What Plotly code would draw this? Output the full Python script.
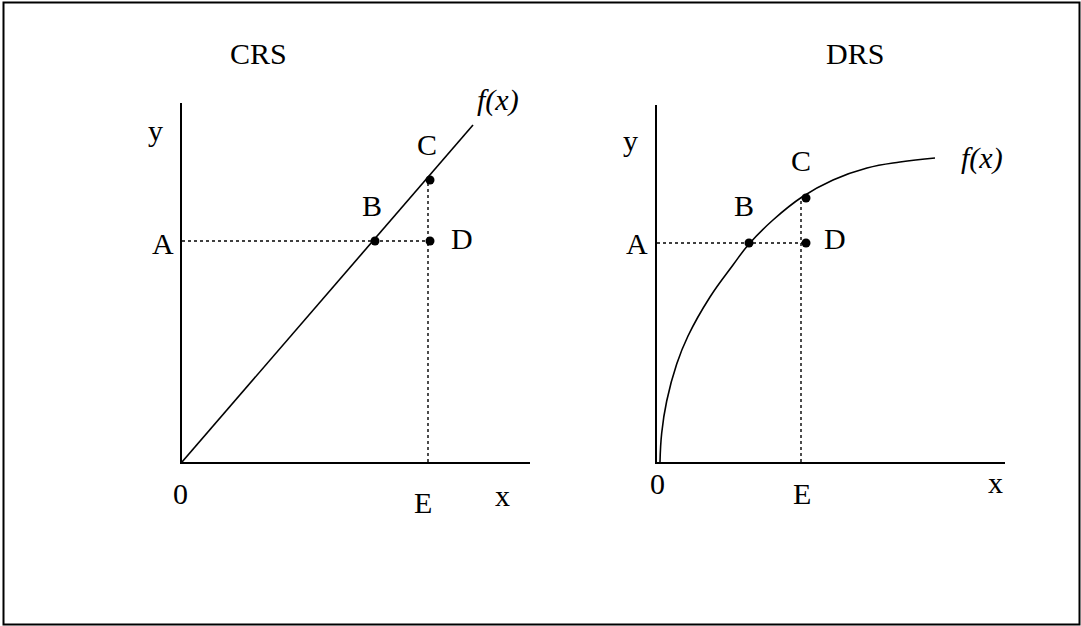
import plotly.graph_objects as go

W, H = 1081, 626

# ---- data (units) ----
# CRS panel: straight production function through the origin
crs_x = [0.0, 29.1]
crs_y = [0.0, 33.7]
crs_pts_x = [19.3, 24.8, 24.8]   # B, C, D
crs_pts_y = [22.1, 28.2, 22.1]
crs_A = 22.1
crs_E = 24.6

# DRS panel: concave production function
drs_x = [0.3, 0.47, 0.97, 1.97, 3.1, 5.3, 7.6, 9.2, 11.6, 14.5, 17.6, 21.0, 24.3, 27.8]
drs_y = [0.0, 2.9, 6.1, 9.8, 12.6, 16.5, 19.7, 21.8, 24.2, 26.5, 28.2, 29.4, 30.0, 30.4]
drs_pts_x = [9.2, 14.9, 14.9]   # B, C, D
drs_pts_y = [21.9, 26.4, 21.9]
drs_A = 21.9
drs_E = 14.4

FONT = "Liberation Serif"
FS = 30

fig = go.Figure()

def px_dom_x(a, b):
    return [a / W, b / W]

def px_dom_y(top, bottom):
    return [(H - bottom) / H, (H - top) / H]

# left panel traces
fig.add_trace(go.Scatter(x=crs_x, y=crs_y, mode="lines", line=dict(color="black", width=1.6),
                         xaxis="x", yaxis="y", showlegend=False, hoverinfo="skip"))
fig.add_trace(go.Scatter(x=[0, crs_pts_x[2]], y=[crs_A, crs_A], mode="lines",
                         line=dict(color="black", width=1.4, dash="dot"),
                         xaxis="x", yaxis="y", showlegend=False, hoverinfo="skip"))
fig.add_trace(go.Scatter(x=[crs_E, crs_E], y=[0, crs_pts_y[1]], mode="lines",
                         line=dict(color="black", width=1.4, dash="dot"),
                         xaxis="x", yaxis="y", showlegend=False, hoverinfo="skip"))
fig.add_trace(go.Scatter(x=crs_pts_x, y=crs_pts_y, mode="markers",
                         marker=dict(color="black", size=9),
                         xaxis="x", yaxis="y", showlegend=False, hoverinfo="skip"))

# right panel traces
fig.add_trace(go.Scatter(x=drs_x, y=drs_y, mode="lines",
                         line=dict(color="black", width=1.6, shape="spline", smoothing=1.2),
                         xaxis="x2", yaxis="y2", showlegend=False, hoverinfo="skip"))
fig.add_trace(go.Scatter(x=[0, drs_pts_x[2]], y=[drs_A, drs_A], mode="lines",
                         line=dict(color="black", width=1.4, dash="dot"),
                         xaxis="x2", yaxis="y2", showlegend=False, hoverinfo="skip"))
fig.add_trace(go.Scatter(x=[drs_E, drs_E], y=[0, drs_pts_y[1]], mode="lines",
                         line=dict(color="black", width=1.4, dash="dot"),
                         xaxis="x2", yaxis="y2", showlegend=False, hoverinfo="skip"))
fig.add_trace(go.Scatter(x=drs_pts_x, y=drs_pts_y, mode="markers",
                         marker=dict(color="black", size=9),
                         xaxis="x2", yaxis="y2", showlegend=False, hoverinfo="skip"))

ax_common = dict(showgrid=False, zeroline=False, showticklabels=False, ticks="",
                 showline=True, linecolor="black", linewidth=2, mirror=False, fixedrange=True)

fig.update_layout(
    width=W, height=H,
    margin=dict(l=0, r=0, t=0, b=0),
    paper_bgcolor="white", plot_bgcolor="white",
    xaxis=dict(domain=px_dom_x(182, 530), range=[0, 34.8], anchor="y", **ax_common),
    yaxis=dict(domain=px_dom_y(103, 462), range=[0, 35.9], anchor="x", **ax_common),
    xaxis2=dict(domain=px_dom_x(657, 1005), range=[0, 34.8], anchor="y2", **ax_common),
    yaxis2=dict(domain=px_dom_y(105, 462), range=[0, 35.7], anchor="x2", **ax_common),
    font=dict(family=FONT, size=FS, color="black"),
)

def lab(text, px, py, size=FS, italic=False):
    t = f"<i>{text}</i>" if italic else text
    fig.add_annotation(text=t, x=px / W, y=(H - py) / H, xref="paper", yref="paper",
                       showarrow=False, xanchor="center", yanchor="middle",
                       font=dict(family=FONT, size=size, color="black"))

# left panel labels
lab("CRS", 258, 53)
lab("y", 155, 130)
lab("f(x)", 498, 100, italic=True)
lab("C", 427, 145)
lab("B", 372, 205)
lab("A", 163, 243)
lab("D", 462, 238)
lab("0", 180, 493)
lab("E", 423, 502)
lab("x", 502, 495)

# right panel labels
lab("DRS", 855, 53)
lab("y", 630, 140)
lab("f(x)", 982, 158, italic=True)
lab("C", 801, 160)
lab("B", 744, 206)
lab("A", 637, 244)
lab("D", 835, 238)
lab("0", 657, 483)
lab("E", 802, 493)
lab("x", 995, 482)

# outer frame
fig.add_shape(type="rect", xref="paper", yref="paper",
              x0=3.5 / W, x1=1079.5 / W, y0=(H - 624.5) / H, y1=(H - 2.5) / H,
              line=dict(color="black", width=2))

fig.write_html("out.html", config={"displayModeBar": False},
               post_script="document.body.style.margin='0';document.body.style.overflow='hidden';")
